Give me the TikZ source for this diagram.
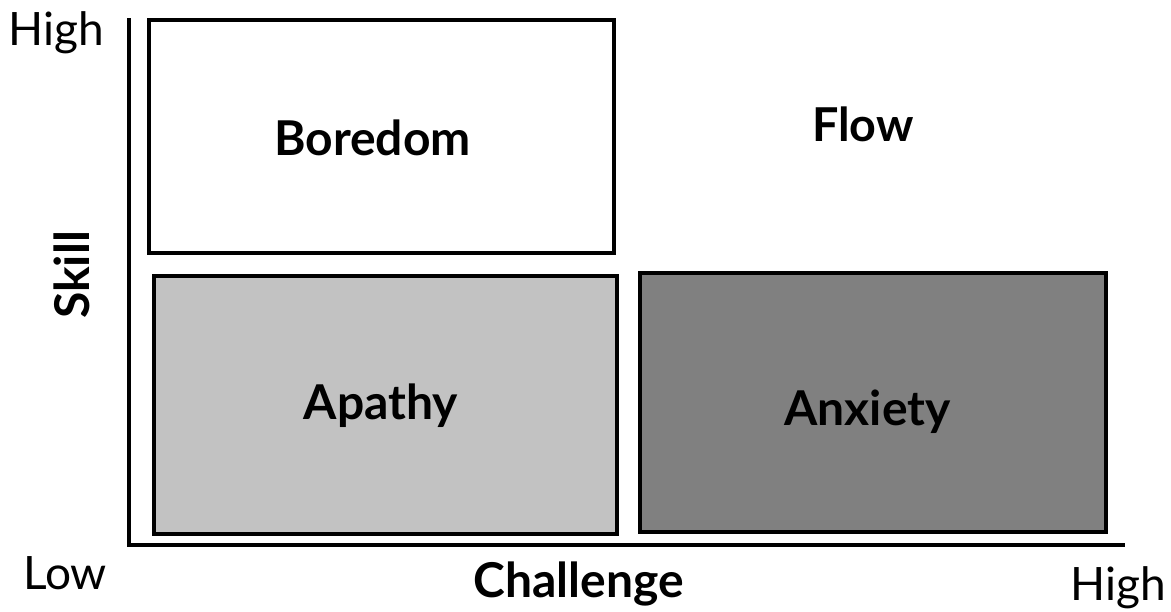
\documentclass[tikz,border=0pt]{standalone}
\usepackage{fontspec}
\setmainfont{Lato}
\usetikzlibrary{fit}
\begin{document}
\begin{tikzpicture}[x=0.75pt,y=-0.75pt,
  quad/.style={draw=black,line width=3pt,inner sep=0pt},
  zone/.style={font=\fontsize{36}{42}\selectfont\bfseries,anchor=base,inner sep=0pt},
  level/.style={font=\fontsize{34.5}{40}\selectfont,anchor=base,inner sep=0pt},
  axis/.style={line width=3pt,line join=miter}]
\useasboundingbox (0,0) rectangle (1171,611);

% axes
\coordinate (ytop) at (129,18);
\coordinate (origin) at (129,545);
\coordinate (xend) at (1125,545);
\draw[axis] (ytop) -- (origin) -- (xend);

% quadrant corners
\coordinate (b1) at (149,20);  \coordinate (b2) at (614,253);
\coordinate (p1) at (154,276); \coordinate (p2) at (617,534);
\coordinate (x1) at (640,273); \coordinate (x2) at (1106,532);

\node[quad,fill=white,fit=(b1)(b2)] (boredom) {};
\node[quad,fill=black!24,fit=(p1)(p2)] (apathy) {};
\node[quad,fill=black!50,fit=(x1)(x2)] (anxiety) {};

% quadrant labels
\node[zone] (lboredom) at (372.5,155) {Boredom};
\node[zone,font=\fontsize{35}{40}\selectfont\bfseries] (lflow) at (863,141) {Flow};
\node[zone] (lapathy) at (381,419) {Apathy};
\node[zone] (lanxiety) at (867.5,425) {Anxiety};

% axis titles
\node[zone] (challenge) at (578.5,597) {Challenge};
\node[zone,rotate=90] (skill) at (89,275) {Skill};

% axis extremes
\node[level] (yhigh) at (56.5,45) {High};
\node[level] (xlow) at (65,589) {Low};
\node[level] (xhigh) at (1118,600) {High};
\end{tikzpicture}
\end{document}
